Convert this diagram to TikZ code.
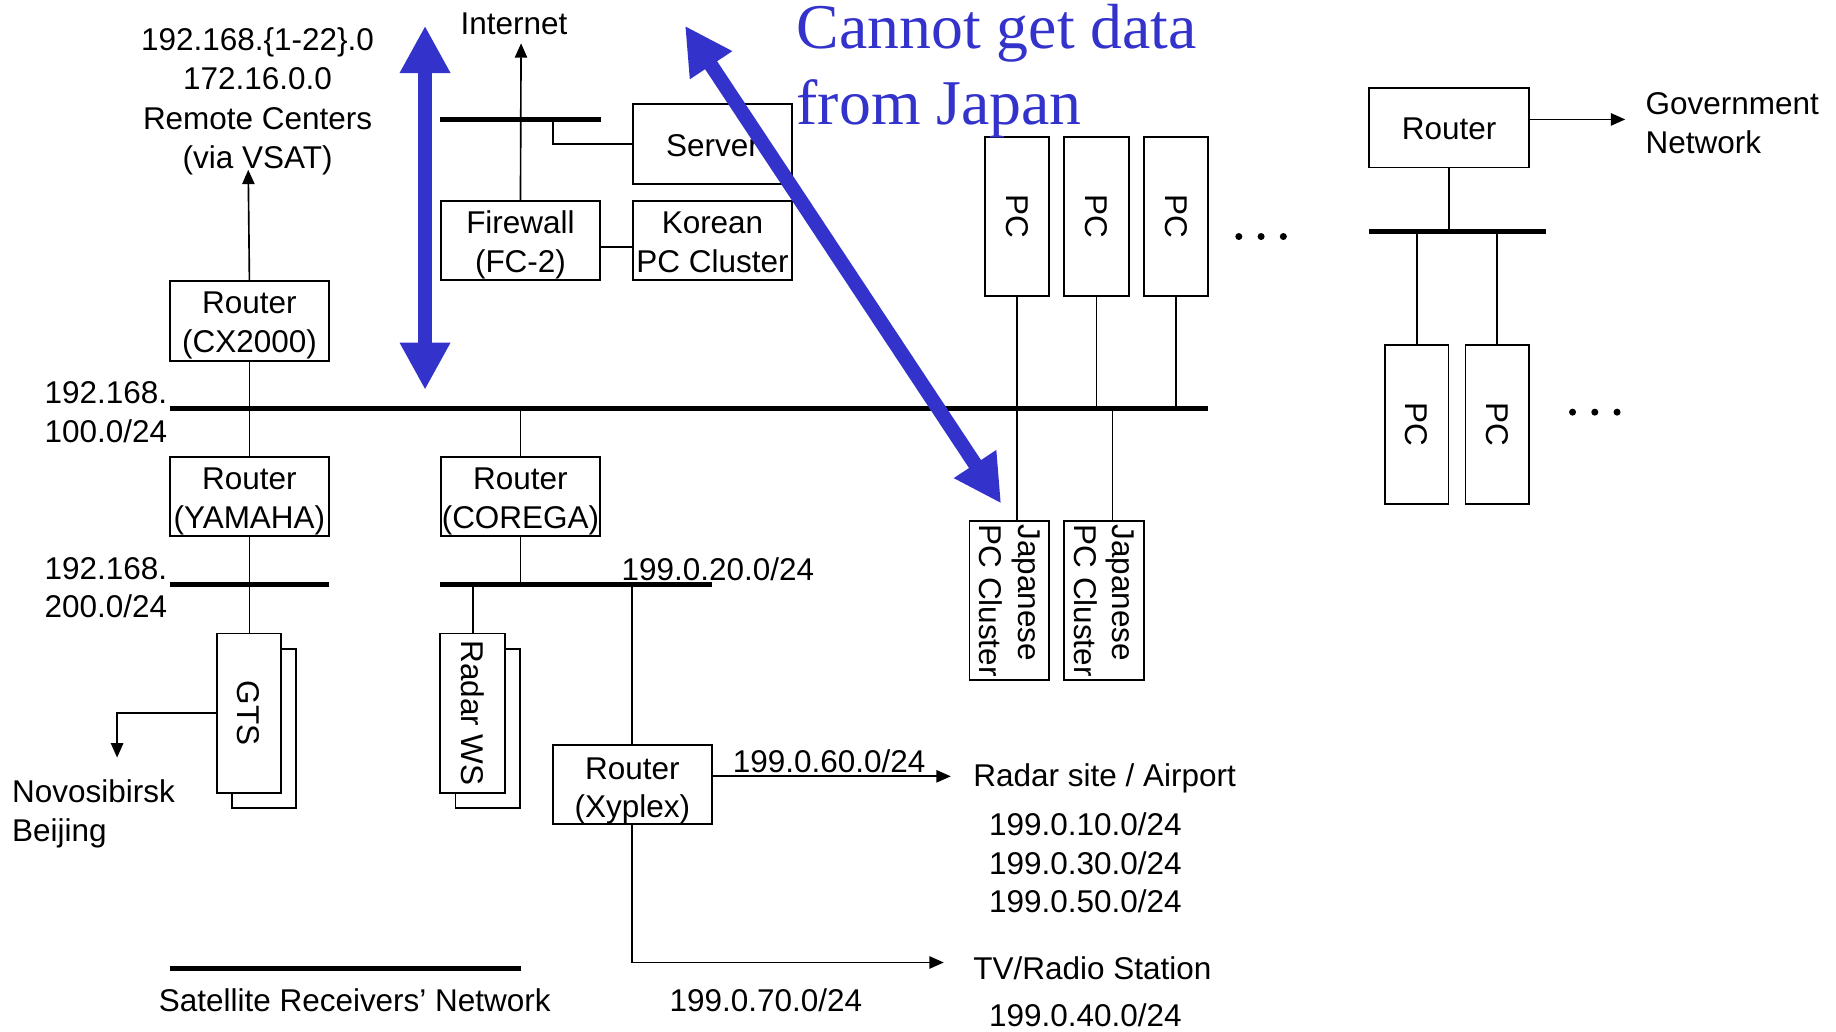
\documentclass[tikz,border=0pt]{standalone}
\usepackage{fontspec}
\setmainfont{Liberation Sans}
\newfontfamily\bluefont{Liberation Serif}
\usetikzlibrary{arrows.meta}
\definecolor{arrowblue}{RGB}{51,51,204}
\newcommand{\lowtxt}[1]{\raisebox{-2.2pt}[\height][\depth]{\begin{tabular}{@{}c@{}}#1\end{tabular}}}
\begin{document}
\begin{tikzpicture}[x=0.02cm, y=-0.02cm,
  every node/.style={font=\fontsize{15.3}{18.8}\selectfont, inner sep=0pt},
  box/.style={draw, line width=0.9pt, fill=white, minimum width=2.72cm, minimum height=1.36cm},
  tallbox/.style={draw, line width=0.9pt, fill=white, rotate=-90, minimum width=2.72cm, minimum height=1.1cm},
  wire/.style={line width=0.8pt},
  bus/.style={line width=2.5pt},
  arr/.style={line width=0.8pt, -{Triangle[length=7pt,width=6pt]}},
  bigarr/.style={draw=arrowblue, line width=7pt, {Triangle[length=23pt,width=23pt]}-{Triangle[length=23pt,width=23pt]}}]
\useasboundingbox (0,0) rectangle (1568,881);

% bus coordinates
\coordinate (b1a) at (145,349); \coordinate (b1b) at (1032,349);
\coordinate (b2a) at (145,499); \coordinate (b2b) at (281,499);
\coordinate (b3a) at (376,499); \coordinate (b3b) at (608,499);
\coordinate (iba) at (376,102); \coordinate (ibb) at (513,102);
\coordinate (sba) at (145,827); \coordinate (sbb) at (445,827);
\coordinate (gba) at (1169,198); \coordinate (gbb) at (1320,198);

% boxes
\node[box] (cx) at (213,274) {\lowtxt{Router\\(CX2000)}};
\node[box] (yam) at (213,424) {\lowtxt{Router\\(YAMAHA)}};
\node[box] (cor) at (444.5,424) {\lowtxt{Router\\(COREGA)}};
\node[box, minimum height=1.34cm] (fw) at (444.5,205.5) {\lowtxt{Firewall\\(FC-2)}};
\node[box, minimum height=1.34cm] (kor) at (608.5,205.5) {\lowtxt{Korean\\PC Cluster}};
\node[box] (srv) at (608.5,123) {\lowtxt{Server}};
\node[box] (xyp) at (540,670) {\raisebox{-3pt}[\height][\depth]{\begin{tabular}{@{}c@{}}Router\\(Xyplex)\end{tabular}}};
\node[box] (grt) at (1237.5,109) {\lowtxt{Router}};

\node[tallbox] (gtsb) at (225.5,622) {};
\node[tallbox] (gts) at (212.5,609) {GTS};
\node[tallbox] (rwsb) at (416.5,622) {};
\node[tallbox] (rws) at (403.5,609) {Radar WS};

\node[tallbox] (pc1) at (868.5,185) {PC};
\node[tallbox] (pc2) at (936.5,185) {PC};
\node[tallbox] (pc3) at (1004.5,185) {PC};
\node[tallbox, minimum height=1.36cm, align=left] (jp1) at (862,513) {Japanese\\PC Cluster};
\node[tallbox, minimum height=1.36cm, align=left] (jp2) at (943,513) {Japanese\\PC Cluster};
\node[tallbox, minimum height=1.08cm] (gpc1) at (1210,362.5) {PC};
\node[tallbox, minimum height=1.08cm] (gpc2) at (1278.5,362.5) {PC};

% texts
\node[align=center, font=\fontsize{15.3}{19.2}\selectfont] (rem) at (220,86.5) {192.168.\{1-22\}.0\\172.16.0.0\\Remote Centers\\(via VSAT)};
\node (inet) at (439,20) {Internet};
\node[anchor=east, align=right] (n100) at (143,352) {192.168.\\100.0/24};
\node[anchor=east, align=right] (n200) at (143,502) {192.168.\\200.0/24};
\node[anchor=west, align=left] (nov) at (10,695) {Novosibirsk\\Beijing};
\node (n20) at (613,486) {199.0.20.0/24};
\node (n60) at (708,650) {199.0.60.0/24};
\node[anchor=west] (rad) at (831,665) {Radar site / Airport};
\node[align=center] (rnets) at (927,737) {199.0.10.0/24\\199.0.30.0/24\\199.0.50.0/24};
\node[anchor=west] (tv) at (831,827) {TV/Radio Station};
\node (n40) at (927,867) {199.0.40.0/24};
\node (n70) at (654,854) {199.0.70.0/24};
\node (sat) at (303,854) {Satellite Receivers’ Network};
\node[anchor=west, align=left] (gov) at (1405,105) {Government\\Network};

% arrow tips
\coordinate (remtip) at (212,145);
\coordinate (inettip) at (445,37);
\coordinate (novtip) at (100,647);
\coordinate (radtip) at (812,663);
\coordinate (tvtip) at (806,822);
\coordinate (govtip) at (1388,102);

% wires
\draw[wire] (cx.south) -- (yam.north);
\draw[wire] (yam.south) -- (yam.south |- gts.west);
\draw[wire] (cor.north) -- (cor.north |- b1a);
\draw[wire] (cor.south) -- (cor.south |- b3a);
\coordinate (b3r) at (404,499);
\draw[wire] (b3r) -- (b3r |- rws.west);
\draw[wire] (xyp.north) -- (xyp.north |- b3a);
\coordinate (ibs) at (472,102);
\draw[wire] (ibs) |- (srv.west);
\draw[wire] (fw.east |- 0,211) -- (kor.west |- 0,211);
\draw[wire] (pc1.east) -- (pc1.east |- jp1.west);
\draw[wire] (pc2.east) -- (pc2.east |- b1a);
\draw[wire] (pc3.east) -- (pc3.east |- b1a);
\coordinate (b1j) at (950,349);
\draw[wire] (b1j) -- (b1j |- jp2.west);
\draw[wire] (grt.south) -- (grt.south |- gba);
\draw[wire] (gpc1.west) -- (gpc1.west |- gba);
\draw[wire] (gpc2.west) -- (gpc2.west |- gba);

% arrows
\draw[arr] (cx.north) -- (remtip);
\draw[arr] (fw.north) -- (inettip);
\draw[arr] (gts.south) -| (novtip);
\draw[arr] (xyp.east |- 0,663) -- (radtip);
\draw[arr] (xyp.south) |- (tvtip);
\draw[arr] (grt.east |- 0,102) -- (govtip);

% buses
\draw[bus] (b1a) -- (b1b);
\draw[bus] (b2a) -- (b2b);
\draw[bus] (b3a) -- (b3b);
\draw[bus] (iba) -- (ibb);
\draw[bus] (sba) -- (sbb);
\draw[bus] (gba) -- (gbb);

% dots
\foreach \x in {1058,1077,1096} \fill (\x,202) circle[radius=0.06cm];
\foreach \x in {1343,1362,1381} \fill (\x,352) circle[radius=0.06cm];

% blue annotation
\node[anchor=west, align=left, text=arrowblue, font=\bluefont\fontsize{31}{37}\selectfont] (cannot) at (680,61) {Cannot get data\\from Japan};
\coordinate (va) at (363,22); \coordinate (vb) at (363,333);
\draw[bigarr] (va) -- (vb);
\coordinate (da) at (585,22); \coordinate (db) at (855,430);
\draw[bigarr] (da) -- (db);
\end{tikzpicture}
\end{document}
